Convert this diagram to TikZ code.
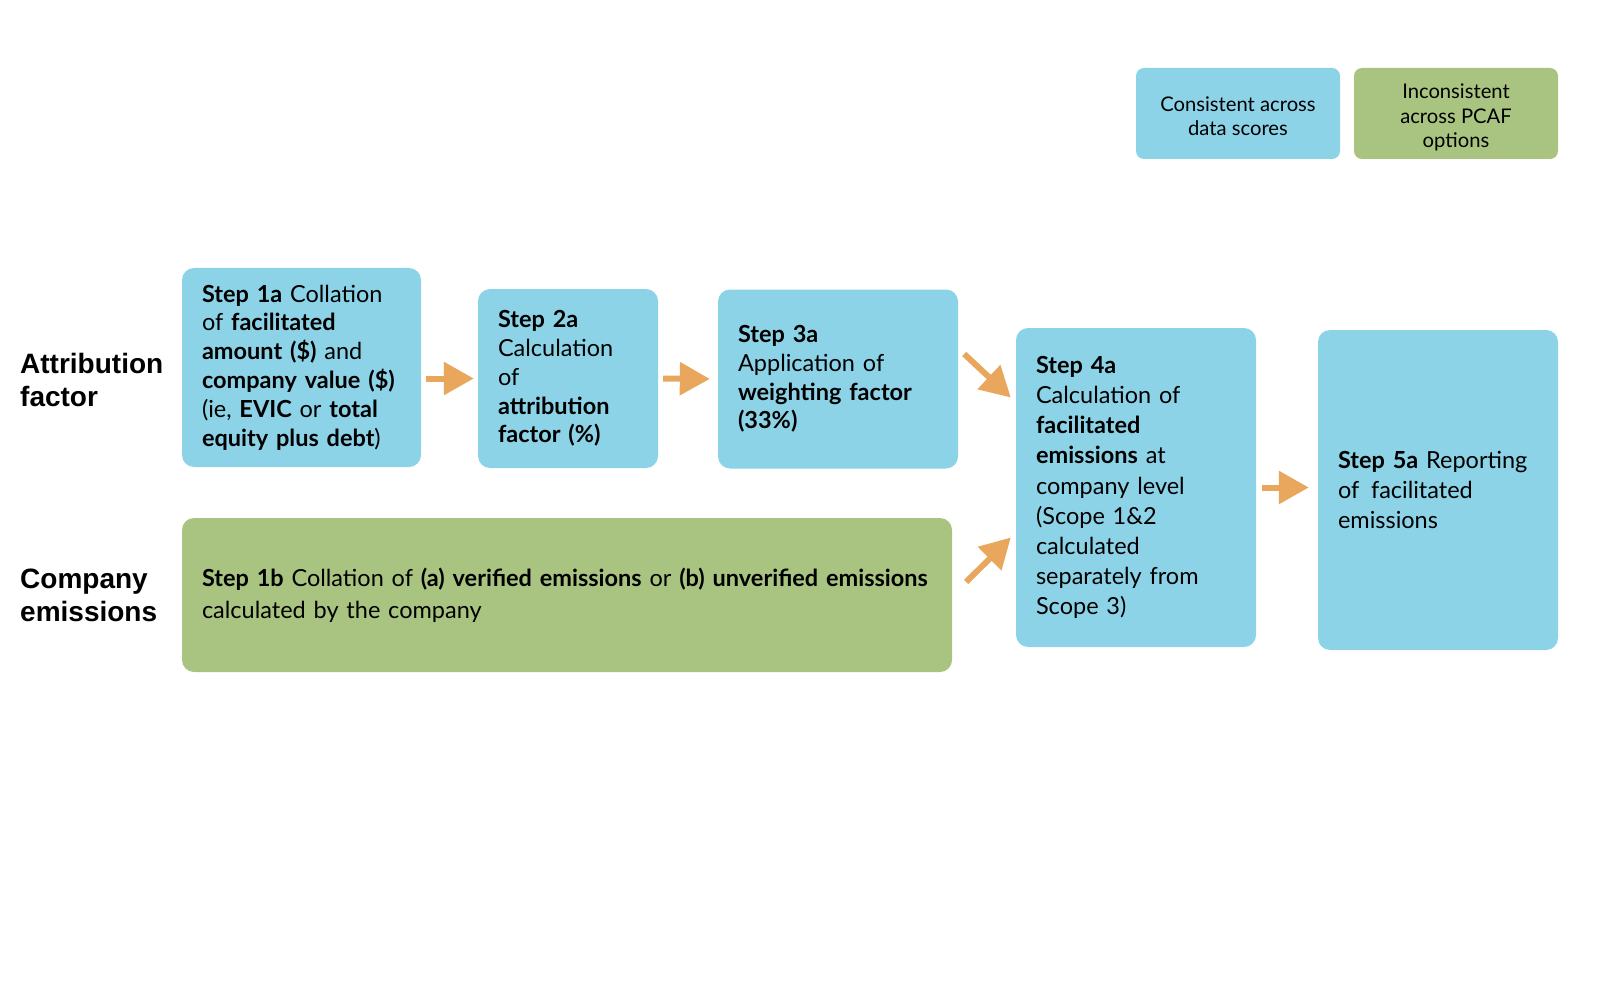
\documentclass[tikz,border=0pt]{standalone}
\usepackage{fontspec}
\setmainfont{Lato}
\newfontfamily\labelfont{Liberation Sans}
\usetikzlibrary{arrows.meta, positioning, calc}
\usepackage{xcolor}
\definecolor{pcafblue}{HTML}{8CD3E7}
\definecolor{pcafgreen}{HTML}{A9C480}
\definecolor{pcaforange}{HTML}{E8A75C}

\begin{document}
\begin{tikzpicture}[
	x=1pt, y=-1pt,
	bluebox/.style={rectangle, rounded corners=12pt, fill=pcafblue, align=left, inner xsep=20pt, inner ysep=0pt, font=\fontsize{23.5}{28.8}\selectfont},
	greenbox/.style={rectangle, rounded corners=12pt, fill=pcafgreen, align=left, inner xsep=20pt, inner ysep=0pt, font=\fontsize{23.5}{32}\selectfont},
	keybox/.style={rectangle, rounded corners=8pt, align=center, minimum width=204pt, minimum height=91pt, inner sep=0pt, font=\fontsize{20.2}{24.5}\selectfont},
	rowlabel/.style={anchor=west, align=left, inner sep=0pt, font=\labelfont\bfseries\fontsize{28}{33}\selectfont},
	arrow/.style={-{Triangle[length=30pt, width=32pt]}, line width=6pt, pcaforange}
	]
	\useasboundingbox (0,0) rectangle (1600,1000);
	% legend
	\node[keybox, fill=pcafblue] (key-same) at (1238,113.5) {\rule{0pt}{20pt}Consistent across\\ data scores};
	\node[keybox, fill=pcafgreen] (key-diff) at (1456,113.5) {\rule{0pt}{23pt}Inconsistent\\ across PCAF\\ options};
	% row labels
	\node[rowlabel] (lbl-attr) at (20,380) {Attribution\\ factor};
	\node[rowlabel] (lbl-emis) at (20,595) {Company\\ emissions};
	% steps
	\node[bluebox, text width=199pt, minimum height=199pt] (step1a) at (301.5,367.5) {\textbf{Step 1a} Collation\\ of \textbf{facilitated}\\ \textbf{amount (\$)} and\\ \textbf{company value (\$)}\\ (ie, \textbf{EVIC} or \textbf{total}\\ \textbf{equity plus debt})};
	\node[bluebox, text width=140pt, minimum height=179pt] (step2a) at (568,378.5) {\textbf{Step 2a}\\ Calculation\\ of\\ \textbf{attribution}\\ \textbf{factor (\%)}};
	\node[bluebox, text width=200pt, minimum height=179pt] (step3a) at (838,379) {\textbf{Step 3a}\\ Application of\\ \textbf{weighting factor}\\ \textbf{(33\%)}};
	\node[bluebox, text width=200pt, minimum height=319pt, font=\fontsize{23.5}{30.2}\selectfont] (step4a) at (1136,487.5) {\textbf{Step 4a}\\ Calculation of\\ \textbf{facilitated}\\ \textbf{emissions} at\\ company level\\ (Scope 1\&2\\ calculated\\ separately from\\ Scope 3)};
	\node[bluebox, text width=200pt, minimum height=320pt, font=\fontsize{23.5}{30}\selectfont] (step5a) at (1438,490) {\textbf{Step 5a} Reporting\\ of~\,facilitated\\ emissions};
	\node[greenbox, text width=730pt, minimum height=154pt] (step1b) at (567,595) {\textbf{Step 1b} Collation of \textbf{(a) verified emissions} or \textbf{(b) unverified emissions}\\ calculated by the company};
	% flow
	\draw[arrow, shorten <=5pt, shorten >=4pt] (step1a.east |- step2a.west) -- (step2a.west);
	\draw[arrow, shorten <=5pt, shorten >=8pt] (step2a.east) -- (step3a.west);
	\draw[arrow] ($(step3a.east)+(6,-25)$) -- ($(step4a.west)+(-5,-90)$);
	\draw[arrow] ($(step1b.east)+(14,-13)$) -- ($(step4a.west)+(-5,50)$);
	\draw[arrow, shorten <=6pt, shorten >=9pt] (step4a.east) -- (step4a.east -| step5a.west);
\end{tikzpicture}
\end{document}
